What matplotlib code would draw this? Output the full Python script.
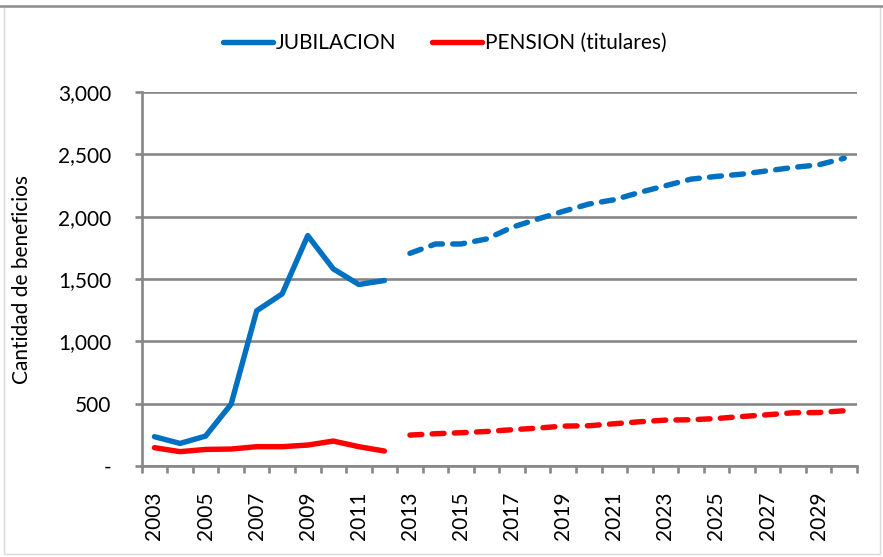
import matplotlib.pyplot as plt
from matplotlib.patches import Rectangle
from matplotlib.ticker import FixedLocator, FuncFormatter
import numpy as np

plt.rcParams['font.family'] = ['Lato', 'DejaVu Sans']

years = list(range(2003, 2031))
# observado 2003-2012
jub_hist = [235, 181, 240, 496, 1245, 1381, 1848, 1581, 1456, 1488]
pen_hist = [147, 115, 133, 136, 155, 155, 168, 200, 155, 120]
# proyectado 2013-2030
jub_proj = [1706, 1781, 1781, 1821, 1915, 1981, 2043, 2101, 2136, 2195,
            2248, 2301, 2323, 2341, 2368, 2395, 2416, 2469]
pen_proj = [248, 259, 267, 277, 291, 304, 320, 323, 339, 355,
            368, 371, 381, 397, 411, 427, 429, 443]

blue = '#0070C0'
red = '#FF0000'
grey = '#878787'
fs = 15

fig = plt.figure(figsize=(8.83, 5.57), dpi=100)
ax = fig.add_axes([141.7 / 883, 1 - 466 / 557, (857 - 141.7) / 883, (466 - 92) / 557])

x = np.arange(len(years))
nh = len(jub_hist)
ax.plot(x[:nh], jub_hist, color=blue, lw=3.9, solid_capstyle='round', label='JUBILACION', zorder=3)
ax.plot(x[:nh], pen_hist, color=red, lw=3.9, solid_capstyle='round', label='PENSION (titulares)', zorder=3)
ax.plot(x[nh:], jub_proj, color=blue, lw=3.9, ls=(0, (2.2, 1.9)), dash_capstyle='round', zorder=3)
ax.plot(x[nh:], pen_proj, color=red, lw=3.9, ls=(0, (2.2, 1.9)), dash_capstyle='round', zorder=3)

ax.set_xlim(-0.5, len(years) - 0.5)
ax.set_ylim(0, 3000)

ax.set_yticks(range(0, 3001, 500))
ax.yaxis.set_major_formatter(FuncFormatter(lambda v, p: '-' if v == 0 else f'{int(v):,}'))
ax.grid(axis='y', color=grey, lw=1.9)
ax.set_axisbelow(True)

ax.xaxis.set_major_locator(FixedLocator(np.arange(-0.5, len(years), 1.0)))
ax.set_xticklabels([])
lab_pos = [i for i, y in enumerate(years) if (y - 2003) % 2 == 0]
ax.xaxis.set_minor_locator(FixedLocator(lab_pos))
ax.set_xticklabels([str(years[i]) for i in lab_pos], minor=True, rotation=90)
ax.tick_params(axis='x', which='minor', length=0, pad=18, labelsize=fs)
ax.tick_params(axis='x', which='major', length=5, width=1.9, color=grey, direction='out')
ax.tick_params(axis='y', length=5, width=1.9, color=grey, labelsize=fs, pad=17)

for s in ['top', 'right']:
    ax.spines[s].set_visible(False)
for s in ['left', 'bottom']:
    ax.spines[s].set_color(grey)
    ax.spines[s].set_linewidth(1.9)

ax.set_ylabel('Cantidad de beneficios', fontsize=fs)
ax.yaxis.set_label_coords(-0.153, 0.5)

fig.legend(loc='center', bbox_to_anchor=(0.504, 1 - 43 / 557), ncol=2, frameon=False,
           fontsize=fs, handlelength=2.4, handletextpad=0.15, columnspacing=1.7)

fig.patches.append(Rectangle((4 / 883, 3 / 557), 876 / 883, 548 / 557, transform=fig.transFigure,
                             fill=False, edgecolor='#D9D9D9', lw=1))
fig.lines.append(plt.Line2D([0, 1], [1 - 6 / 557, 1 - 6 / 557], transform=fig.transFigure,
                            color='#8C8C8C', lw=1.8))

fig.savefig('out.png', dpi=100)
